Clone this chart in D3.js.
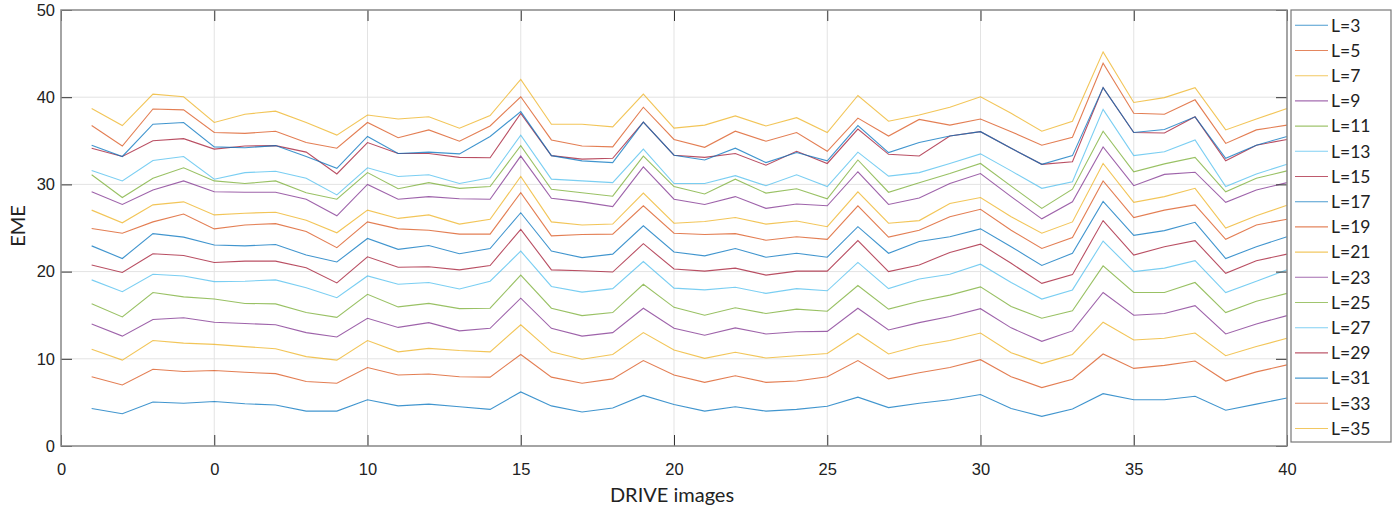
<!DOCTYPE html>
<html>
<head>
<meta charset="utf-8">
<script src="https://cdn.jsdelivr.net/npm/d3@7"></script>
<style>
  body { margin: 0; background: #fff; }
  svg { font-family: Lato, "Noto Sans", sans-serif; }
</style>
</head>
<body>
<svg id="chart" width="1396" height="512"></svg>
<script>
// x categories: DRIVE image index
const images = d3.range(1, 41);

// EME per image, one array per window size L
const L3  = [4.3,3.7,5.05,4.9,5.1,4.85,4.7,4.0,4.0,5.3, 4.6,4.8,4.5,4.2,6.2,4.6,3.9,4.35,5.8,4.75, 4.0,4.5,4.0,4.2,4.55,5.6,4.4,4.9,5.3,5.9, 4.3,3.4,4.25,6.0,5.3,5.3,5.7,4.1,4.8,5.5];
const L5  = [7.95,7.0,8.8,8.55,8.65,8.45,8.3,7.4,7.2,9.0, 8.15,8.25,7.95,7.9,10.5,7.9,7.2,7.7,9.8,8.15, 7.3,8.05,7.3,7.45,7.95,9.8,7.7,8.4,9.0,9.9, 7.95,6.7,7.65,10.55,8.9,9.25,9.75,7.45,8.5,9.3];
const L7  = [11.1,9.85,12.1,11.8,11.65,11.4,11.15,10.25,9.85,12.1, 10.8,11.2,10.95,10.8,13.9,10.8,9.95,10.5,13.0,11.0, 10.05,10.75,10.1,10.35,10.6,12.9,10.55,11.5,12.1,12.95, 10.7,9.45,10.5,14.2,12.15,12.35,12.95,10.35,11.4,12.35];
const L9  = [14.0,12.6,14.5,14.7,14.2,14.05,13.9,13.0,12.5,14.65, 13.6,14.15,13.2,13.5,16.95,13.5,12.6,13.0,15.8,13.5, 12.7,13.55,12.85,13.1,13.15,15.8,13.3,14.15,14.85,15.75, 13.55,12.0,13.2,17.6,15.0,15.2,16.1,12.85,14.0,14.95];
const L11 = [16.3,14.8,17.6,17.1,16.85,16.35,16.3,15.3,14.75,17.4, 15.95,16.35,15.75,15.8,19.6,15.8,14.95,15.3,18.55,15.9, 15.0,15.85,15.2,15.7,15.45,18.4,15.7,16.6,17.3,18.25, 16.0,14.65,15.5,20.65,17.6,17.6,18.75,15.3,16.6,17.5];
const L13 = [19.05,17.7,19.7,19.5,18.85,18.9,19.05,18.15,17.0,19.5, 18.55,18.75,18.0,18.9,22.35,18.3,17.65,18.05,21.15,18.1, 17.9,18.2,17.5,18.05,17.8,21.05,18.05,19.15,19.7,20.85, 18.75,16.85,17.9,23.5,20.0,20.4,21.25,17.6,18.9,20.2];
const L15 = [20.75,19.9,22.05,21.85,21.05,21.2,21.2,20.45,18.7,21.7, 20.5,20.55,20.2,20.7,24.85,20.2,20.1,19.95,23.2,20.3, 20.05,20.4,19.6,20.05,20.05,23.55,20.0,20.75,22.2,23.15, 20.95,18.65,19.65,25.85,21.9,22.85,23.55,19.8,21.25,22.0];
const L17 = [22.95,21.5,24.35,23.95,23.05,22.95,23.1,21.9,21.1,23.8, 22.55,23.0,22.05,22.65,26.75,22.35,21.6,22.0,25.25,22.25, 21.8,22.65,21.65,22.1,21.65,25.15,22.1,23.45,24.0,24.9, 22.85,20.7,22.1,28.05,24.15,24.7,25.65,21.5,22.85,24.0];
const L19 = [24.95,24.4,25.7,26.6,24.9,25.35,25.5,24.6,22.75,25.7, 24.9,24.75,24.3,24.3,29.05,24.1,24.25,24.3,27.55,24.4, 24.25,24.35,23.6,24.0,23.7,27.55,23.95,24.75,26.3,27.15, 24.75,22.65,23.9,30.4,26.2,27.05,27.65,23.7,25.35,26.0];
const L21 = [27.05,25.6,27.65,28.0,26.5,26.7,26.8,25.9,24.45,27.05, 26.1,26.5,25.45,26.0,30.9,25.7,25.35,25.45,29.0,25.55, 25.75,26.2,25.45,25.8,25.15,29.15,25.55,25.85,27.8,28.5, 26.3,24.4,25.7,32.4,27.95,28.6,29.55,25.0,26.4,27.6];
const L23 = [29.15,27.7,29.35,30.4,29.15,29.1,29.1,28.3,26.4,30.0, 28.3,28.6,28.35,28.3,33.25,28.4,28.0,27.45,32.0,28.3, 27.7,28.6,27.25,27.75,27.55,31.45,27.7,28.45,30.1,31.25, 28.6,26.05,28.0,34.3,29.85,31.15,31.4,27.95,29.35,30.2];
const L25 = [31.1,28.5,30.7,31.9,30.4,30.1,30.4,29.05,28.3,31.35, 29.5,30.2,29.55,29.75,34.45,29.45,29.05,28.65,33.25,29.75, 28.9,30.6,29.0,29.5,28.35,32.8,29.1,30.2,31.25,32.4, 29.8,27.25,29.45,36.1,31.45,32.35,33.1,29.15,30.7,31.55];
const L27 = [31.6,30.4,32.75,33.2,30.6,31.35,31.5,30.7,28.8,31.9, 30.9,31.1,30.1,30.75,35.65,30.6,30.4,30.2,34.05,30.1, 30.1,31.0,29.85,31.1,29.75,33.7,30.95,31.35,32.4,33.5, 31.55,29.55,30.3,38.6,33.3,33.75,35.1,29.75,31.2,32.3];
const L29 = [34.15,33.2,35.0,35.25,34.05,34.4,34.45,33.7,31.2,34.8, 33.55,33.55,33.1,33.05,38.15,33.3,32.9,33.0,37.15,33.35, 33.1,33.55,32.2,33.8,32.4,36.35,33.45,33.25,35.55,36.05, 34.15,32.3,32.6,41.1,35.95,35.9,37.75,32.7,34.5,35.15];
const L31 = [34.5,33.2,36.9,37.1,34.3,34.2,34.45,33.2,31.85,35.5, 33.55,33.7,33.5,35.5,38.35,33.3,32.7,32.5,37.15,33.35, 32.8,34.15,32.5,33.65,32.7,36.75,33.65,34.8,35.55,36.05, 34.15,32.3,33.3,41.1,35.95,36.3,37.75,33.0,34.5,35.5];
const L33 = [36.75,34.4,38.65,38.55,35.95,35.85,36.1,34.8,34.15,37.1, 35.35,36.25,34.95,36.7,40.05,35.1,34.4,34.3,38.85,35.15, 34.25,36.1,34.95,35.95,33.8,37.6,35.55,37.45,36.8,37.5, 36.05,34.5,35.4,43.9,38.15,38.05,39.7,34.7,36.25,36.8];
const L35 = [38.7,36.75,40.35,40.05,37.1,38.05,38.4,37.1,35.65,37.95, 37.5,37.75,36.45,37.9,42.05,36.9,36.9,36.6,40.35,36.45, 36.8,37.85,36.7,37.65,35.95,40.2,37.25,37.95,38.85,40.05, 38.15,36.1,37.25,45.2,39.4,39.95,41.1,36.25,37.5,38.7];

const seriesNames = ["L=3","L=5","L=7","L=9","L=11","L=13","L=15","L=17","L=19","L=21","L=23","L=25","L=27","L=29","L=31","L=33","L=35"];
const seriesValues = [L3,L5,L7,L9,L11,L13,L15,L17,L19,L21,L23,L25,L27,L29,L31,L33,L35];

const xTicks = [0,5,10,15,20,25,30,35,40];
const xTickLabels = ["0","0","10","15","20","25","30","35","40"];
const yTicks = [0,10,20,30,40,50];

const palette = ["#0072BD","#D95319","#EDB120","#7E2F8E","#77AC30","#4DBEEE","#A2142F"];

const svg = d3.select("#chart");
const plot = {left: 61, top: 10, right: 1287, bottom: 446};

const x = d3.scaleLinear().domain([0, 40]).range([plot.left, plot.right]);
const y = d3.scaleLinear().domain([0, 50]).range([plot.bottom, plot.top]);

// grid
const grid = svg.append("g");
grid.selectAll(".gx").data(xTicks).enter().append("line")
    .attr("x1", d => x(d)).attr("x2", d => x(d))
    .attr("y1", plot.top).attr("y2", plot.bottom)
    .attr("stroke", "#e3e3e3").attr("stroke-width", 1);
grid.selectAll(".gy").data(yTicks).enter().append("line")
    .attr("x1", plot.left).attr("x2", plot.right)
    .attr("y1", d => y(d)).attr("y2", d => y(d))
    .attr("stroke", "#e3e3e3").attr("stroke-width", 1);

// lines
const line = d3.line()
    .x((d, i) => x(images[i]))
    .y(d => y(d));

svg.append("g").selectAll("path")
    .data(seriesValues)
    .enter().append("path")
    .attr("d", d => line(d))
    .attr("fill", "none")
    .attr("stroke", (d, i) => palette[i % palette.length])
    .attr("stroke-width", 1.1)
    .attr("stroke-opacity", 0.75);

// axes, MATLAB style box with inward ticks
const tickLen = 11;
const fmtX = (d, i) => xTickLabels[i];

svg.append("g")
    .attr("transform", `translate(0,${plot.bottom})`)
    .call(d3.axisBottom(x).tickValues(xTicks).tickFormat(fmtX).tickSizeInner(-tickLen).tickSizeOuter(0).tickPadding(17))
    .call(g => g.select(".domain").remove())
    .call(g => g.selectAll("text").style("font-size", "16.5px").attr("fill", "#222"));

svg.append("g")
    .attr("transform", `translate(0,${plot.top})`)
    .call(d3.axisTop(x).tickValues(xTicks).tickFormat("").tickSizeInner(-tickLen).tickSizeOuter(0))
    .call(g => g.select(".domain").remove());

svg.append("g")
    .attr("transform", `translate(${plot.left},0)`)
    .call(d3.axisLeft(y).tickValues(yTicks).tickSizeInner(-tickLen).tickSizeOuter(0).tickPadding(6))
    .call(g => g.select(".domain").remove())
    .call(g => g.selectAll("text").style("font-size", "16.5px").attr("fill", "#222"));

svg.append("g")
    .attr("transform", `translate(${plot.right},0)`)
    .call(d3.axisRight(y).tickValues(yTicks).tickFormat("").tickSizeInner(-tickLen).tickSizeOuter(0))
    .call(g => g.select(".domain").remove());

svg.selectAll(".tick line").attr("stroke", "#333");

svg.append("rect")
    .attr("x", plot.left).attr("y", plot.top)
    .attr("width", plot.right - plot.left).attr("height", plot.bottom - plot.top)
    .attr("fill", "none").attr("stroke", "#8a8a8a").attr("stroke-width", 1.5);

// axis titles
svg.append("text")
    .attr("x", 672).attr("y", 502)
    .attr("text-anchor", "middle")
    .style("font-size", "20px").attr("fill", "#222")
    .text("DRIVE images");

svg.append("text")
    .attr("transform", `translate(25,226) rotate(-90)`)
    .attr("text-anchor", "middle")
    .style("font-size", "20px").attr("fill", "#222")
    .text("EME");

// legend
const legend = svg.append("g");
legend.append("rect")
    .attr("x", 1291).attr("y", 10).attr("width", 100).attr("height", 432)
    .attr("fill", "#fff").attr("stroke", "#777").attr("stroke-width", 1.2);

const item = legend.selectAll(".item")
    .data(seriesNames)
    .enter().append("g")
    .attr("transform", (d, i) => `translate(0,${25.3 + i * 25.2})`);

item.append("line")
    .attr("x1", 1295).attr("x2", 1328)
    .attr("stroke", (d, i) => palette[i % palette.length])
    .attr("stroke-width", 1.1).attr("stroke-opacity", 0.7);

item.append("text")
    .attr("x", 1331).attr("dy", "0.36em")
    .style("font-size", "17.5px").attr("fill", "#222")
    .text(d => d);
</script>
</body>
</html>
